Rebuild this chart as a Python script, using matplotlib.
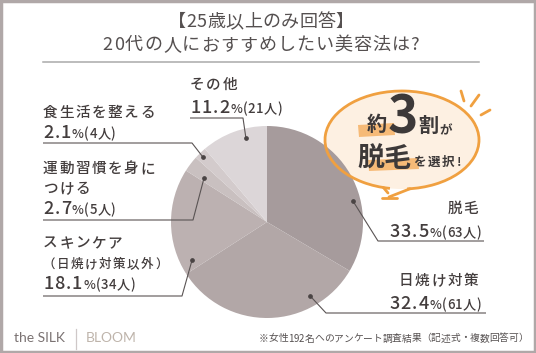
import numpy as np
import matplotlib.pyplot as plt
from matplotlib import font_manager
from matplotlib.font_manager import FontProperties
from matplotlib.patches import Rectangle, Polygon, Ellipse, Arc

plt.rcParams['font.family'] = ['Noto Sans CJK JP', 'DejaVu Sans']

# データ
names = ['脱毛', '日焼け対策', 'スキンケア', '運動習慣を身に', '食生活を整える', 'その他']
sub_names = ['', '', '（日焼け対策以外）', 'つける', '', '']
percents = [33.5, 32.4, 18.1, 2.7, 2.1, 11.2]
counts = [63, 61, 34, 5, 4, 21]
colors = ['#a69b9c', '#b2a7a7', '#bcb1b1', '#c9c0c0', '#d3cbcc', '#dcd6d8']

title1 = '【25歳以上のみ回答】'
title2 = '20代の人におすすめしたい美容法は?'
note = '※女性192名へのアンケート調査結果（記述式・複数回答可）'

INK = '#433d3d'
W, H = 536, 353

fig = plt.figure(figsize=(W / 100, H / 100), dpi=100)
fig.patch.set_facecolor('white')
ax = fig.add_axes([0, 0, 1, 1])


def Y(y):
    return H - y


def adv(ch, size, weight):
    prop = FontProperties(family=['Noto Sans CJK JP'], weight=weight)
    f = font_manager.get_font(font_manager.findfont(prop))
    f.set_size(size, 100)
    g = f.load_char(ord(ch))
    return g.linearHoriAdvance / 65536


def put(x, y, parts, ha='left', color=INK, z=6):
    # parts: (文字列, サイズ, 太さ, 字間)
    gl = []
    for s, size, weight, track in parts:
        for ch in s:
            gl.append((ch, size, weight, adv(ch, size, weight), track))
    total = sum(g[3] + g[4] for g in gl) - gl[-1][4]
    if ha == 'right':
        x -= total
    elif ha == 'center':
        x -= total / 2
    for ch, size, weight, a, track in gl:
        ax.text(x + a / 2, Y(y), ch, fontsize=size, fontweight=weight,
                color=color, ha='center', va='baseline', zorder=z)
        x += a + track


# 円グラフ
cx, cy, R = 267, 222, 96
ax.pie(percents, colors=colors, startangle=90, counterclock=False,
       center=(cx, Y(cy)), radius=R, wedgeprops=dict(linewidth=0, zorder=3),
       frame=False)
ax.set_xlim(0, W)
ax.set_ylim(0, H)
ax.set_aspect('auto')
ax.axis('off')

# 引き出し線の点 (くさび内の位置, 半径比)
anchors = [(0.63, 0.92), (0.25, 0.89), (0.09, 0.875), (0.26, 0.8), (0.43, 0.95), (0.65, 0.9)]
cum = np.concatenate([[0], np.cumsum(percents)[:-1]]) / 100
dots = []
for i, (t, rf) in enumerate(anchors):
    cw = 360 * (cum[i] + t * percents[i] / 100)
    th = np.radians(90 - cw)
    dots.append((cx + rf * R * np.cos(th), Y(cy) + rf * R * np.sin(th)))

# 各ラベルの配置: (x, 1行目y, 行間, 揃え, 下線y, 下線x0, 下線x1)
layout = [
    (481, 213, 23, 'right', 241, 378, 484),
    (481, 285, 23, 'right', 313, 326, 486),
    (43, 248, 20, 'left', 296, 43, 182),
    (43, 173, 20, 'left', 220, 43, 193),
    (43, 117, 20, 'left', 143, 43, 192),
    (190, 89, 23, 'left', 118, 190, 243),
]

for i, (x, y, lh, ha, uy, ux0, ux1) in enumerate(layout):
    lines = [names[i]] + ([sub_names[i]] if sub_names[i] else [])
    yy = y
    for k, s in enumerate(lines):
        small = s.startswith('（')
        put(x - (3 if ha == 'right' else 0), yy,
            [(s, 9 if small else 10.5, 'medium', 1.5 if small else 1.6)], ha=ha)
        yy += lh
    put(x, yy + 1, [(f'{percents[i]}', 13, 'medium', 1.0),
                    ('%', 9, 'medium', 0.5),
                    (f'({counts[i]}人)', 9.5, 'medium', 0.4)], ha=ha)
    dx, dy = dots[i]
    if ha == 'left':
        xs = [ux0, ux1, dx]
        ys = [Y(uy), Y(uy), dy]
    else:
        xs = [dx, ux0, ux1]
        ys = [dy, Y(uy), Y(uy)]
    ax.plot(xs, ys, color='#5a5454', lw=0.8, zorder=5, solid_capstyle='butt')
    ax.plot([dx], [dy], 'o', color='#4a4444', ms=2.4, zorder=6)

# タイトル
put(261, 27, [(title1, 13, 'normal', 0.3)], ha='center', color='#555050')
put(261, 50, [(title2, 13, 'normal', 1.0)], ha='center', color='#555050')
ax.plot([43, 479], [Y(62), Y(62)], color='#aaaaaa', lw=1.1)

# 吹き出し
bx, by, ba, bb = 402, 140, 77, 49
ax.add_patch(Ellipse((bx, Y(by)), 2 * ba, 2 * bb, facecolor='#fdf0e2',
                     edgecolor='none', zorder=1))
ax.add_patch(Arc((bx, Y(by)), 2 * ba, 2 * bb, theta1=-84, theta2=256,
                 color='#f0a040', lw=2, zorder=4))
t1 = np.radians(-84)
t2 = np.radians(256)
p1 = (bx + ba * np.cos(t1), Y(by) + bb * np.sin(t1))
p2 = (bx + ba * np.cos(t2), Y(by) + bb * np.sin(t2))
tip = (389, Y(197))
ax.plot([p1[0], tip[0]], [p1[1], tip[1]], color='#f0a040', lw=2, zorder=4,
        solid_capstyle='round')
ax.plot([p2[0], tip[0] - 1], [p2[1], tip[1] + 4], color='#f0a040', lw=2, zorder=4,
        solid_capstyle='round')
ax.plot([382, 397], [Y(198), Y(198)], color='#f0a040', lw=2, zorder=4,
        solid_capstyle='round')
for (x0, y0), (x1, y1) in [((461, 91), (464, 101)), ((479, 95), (471, 106)),
                           ((490, 110), (481, 115))]:
    ax.plot([x0, x1], [Y(y0), Y(y1)], color='#f0a040', lw=2, zorder=4,
            solid_capstyle='round')

# 強調マーカー
ax.add_patch(Polygon([(358, Y(125)), (394, Y(123)), (395, Y(135)), (359, Y(137))],
                     closed=True, facecolor='#f5ad5c', alpha=0.8, edgecolor='none', zorder=5))
ax.add_patch(Polygon([(368, Y(160)), (418, Y(158)), (419, Y(169)), (369, Y(171))],
                     closed=True, facecolor='#f5ad5c', alpha=0.8, edgecolor='none', zorder=5))

BK = '#3d3939'
ax.text(377, Y(131), '約', fontsize=14.5, fontweight='bold', color=BK,
        ha='center', va='baseline', zorder=6)
ax.text(403, Y(134), '3', fontsize=37, fontweight='bold', color=BK,
        ha='center', va='baseline', zorder=6)
ax.text(428, Y(132), '割', fontsize=14.5, fontweight='bold', color=BK,
        ha='center', va='baseline', zorder=6)
ax.text(446, Y(134), 'が', fontsize=9, fontweight='bold', color=BK,
        ha='center', va='baseline', zorder=6)
put(357, 167, [('脱毛', 19.5, 'bold', 0.0)], color=BK)
put(413, 166, [('を選択!', 9, 'bold', 2.0)], color=BK)

# フッター
ax.text(14, Y(342), 'the SILK', fontsize=10, family=['Lato', 'DejaVu Sans'],
        color='#7a7272', ha='left', va='baseline')
ax.plot([76, 76], [Y(329), Y(349)], color='#cfc8c8', lw=0.9)
ax.text(86, Y(342), 'BLOOM', fontsize=10, family=['Lato', 'DejaVu Sans'],
        color='#beb4ab', ha='left', va='baseline')
put(528, 341.5, [(note, 7, 'normal', 0.0)], ha='right', color='#555050')

# 枠
fig.patches.append(Rectangle((0.002, 0.003), 0.996, 0.994, transform=fig.transFigure,
                             fill=False, edgecolor='#b0a8a8', lw=2.5))

fig.savefig('out.png', dpi=100, facecolor='white')
